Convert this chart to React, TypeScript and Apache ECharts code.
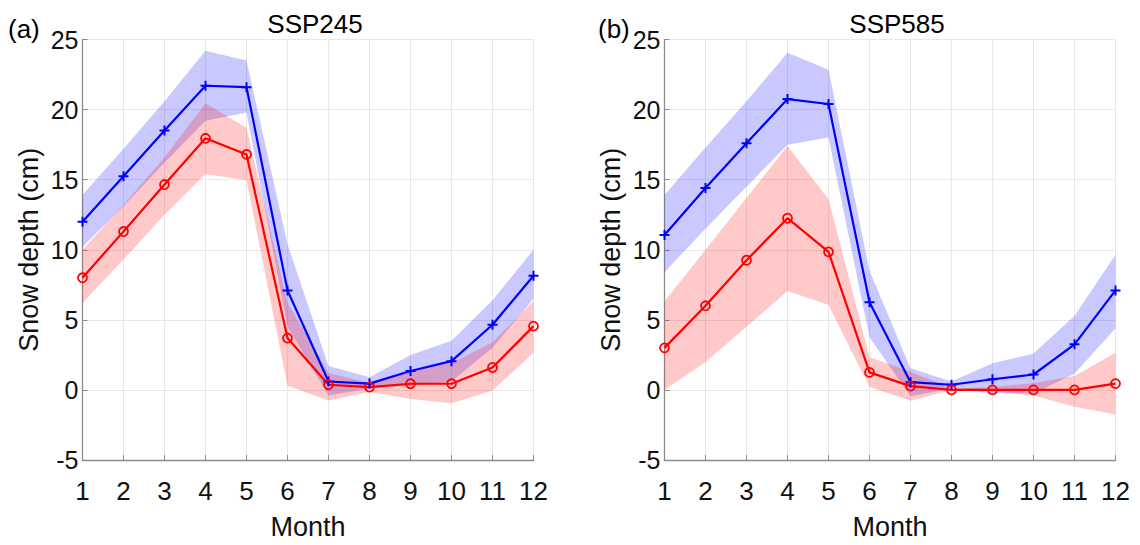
import React, { useEffect, useRef } from "react";
import * as echarts from "echarts";

const months = [1, 2, 3, 4, 5, 6, 7, 8, 9, 10, 11, 12];
const yTicks = [-5, 0, 5, 10, 15, 20, 25];

// (a) SSP245
const aBlue = [12.0, 15.25, 18.5, 21.7, 21.6, 7.1, 0.6, 0.45, 1.35, 2.05, 4.65, 8.15];
const aBlueHi = [13.9, 17.2, 20.6, 24.2, 23.5, 10.4, 1.7, 0.9, 2.5, 3.5, 6.4, 10.0];
const aBlueLo = [10.2, 13.1, 16.2, 19.2, 19.8, 4.5, -0.4, 0.1, 0.3, 0.6, 3.0, 6.5];
const aRed = [8.0, 11.3, 14.65, 17.95, 16.8, 3.7, 0.37, 0.2, 0.44, 0.44, 1.6, 4.55];
const aRedHi = [10.0, 13.2, 16.6, 20.45, 18.7, 6.2, 1.2, 0.5, 1.4, 1.9, 3.4, 6.35];
const aRedLo = [6.2, 9.3, 12.5, 15.4, 14.95, 0.3, -0.75, -0.15, -0.65, -0.95, -0.05, 2.65];

// (b) SSP585
const bBlue = [11.05, 14.4, 17.6, 20.75, 20.4, 6.25, 0.55, 0.37, 0.76, 1.1, 3.25, 7.1];
const bBlueHi = [13.9, 17.3, 20.6, 24.05, 22.85, 8.5, 1.55, 0.6, 1.9, 2.6, 5.3, 9.65];
const bBlueLo = [8.4, 11.5, 14.5, 17.5, 18.0, 3.75, -0.45, 0.1, -0.25, -0.25, 1.15, 4.4];
const bRed = [3.0, 6.0, 9.25, 12.25, 9.85, 1.25, 0.27, 0.0, 0.0, 0.0, 0.0, 0.45];
const bRedHi = [6.3, 10.0, 13.7, 17.4, 13.6, 2.35, 1.3, 0.1, 0.2, 0.5, 1.0, 2.65];
const bRedLo = [0.0, 2.0, 4.5, 7.05, 6.05, 0.2, -0.78, 0.0, -0.1, -0.4, -1.2, -1.75];

const titles = ["SSP245", "SSP585"];
const panelTags = ["(a)", "(b)"];

const FONT = "'Liberation Sans', Arial, Helvetica, sans-serif";
const BLUE = "#0000ff";
const RED = "#ff0000";
const PLUS = "path://M4,0H6V4H10V6H6V10H4V6H0V4H4Z";
const TXT = "#111111";

const pairs = (vals: number[]) => months.map((m, i) => [m, vals[i]]);

function band(gi: number, lo: number[], hi: number[], fill: string) {
  return {
    type: "custom",
    xAxisIndex: gi,
    yAxisIndex: gi,
    silent: true,
    z: 1,
    data: months.map((m, i) => [m, lo[i], hi[i]]),
    encode: { x: 0, y: [1, 2] },
    renderItem: (params: any, api: any) => {
      if (params.dataIndex !== 0) return null;
      const pts: number[][] = [];
      for (let i = 0; i < months.length; i++) pts.push(api.coord([months[i], hi[i]]));
      for (let i = months.length - 1; i >= 0; i--) pts.push(api.coord([months[i], lo[i]]));
      return { type: "polygon", shape: { points: pts }, style: { fill, stroke: "none" } };
    },
  };
}

function meanLine(gi: number, vals: number[], color: string, kind: "plus" | "circle") {
  return {
    type: "line",
    xAxisIndex: gi,
    yAxisIndex: gi,
    data: pairs(vals),
    symbol: kind === "plus" ? PLUS : "circle",
    symbolSize: kind === "plus" ? 10 : 9,
    showSymbol: true,
    lineStyle: { color, width: 2.2 },
    itemStyle:
      kind === "plus"
        ? { color, borderWidth: 0 }
        : { color: "rgba(255,255,255,0)", borderColor: color, borderWidth: 1.8 },
    z: 5,
  };
}

const gridLefts = [82.5, 664.5];
const GRID_W = 451;
const GRID_TOP = 39.5;
const GRID_H = 424.5;

export default function App() {
  const ref = useRef<HTMLDivElement>(null);
  useEffect(() => {
    if (!ref.current) return;
    const chart = echarts.init(ref.current, undefined, { renderer: "svg" });
    const grids = gridLefts.map((l) => ({ left: l, top: GRID_TOP, width: GRID_W, height: GRID_H }));
    const xAxes = [0, 1].map((gi) => ({
      type: "value",
      gridIndex: gi,
      min: 1,
      max: 12,
      interval: 1,
      name: "Month",
      nameLocation: "middle",
      nameGap: 53,
      nameTextStyle: { fontFamily: FONT, fontSize: 27, color: TXT },
      axisLine: { show: true, onZero: false, lineStyle: { color: "#8c8c8c", width: 1.3 } },
      axisTick: { show: true, inside: true, length: 5, lineStyle: { color: "#8c8c8c" } },
      axisLabel: { fontFamily: FONT, fontSize: 26, color: TXT, margin: 18 },
      splitLine: { show: true, lineStyle: { color: "#e8e8e8", width: 1 } },
    }));
    const yAxes = [0, 1].map((gi) => ({
      type: "value",
      gridIndex: gi,
      min: -5,
      max: 25,
      interval: 5,
      name: "Snow depth (cm)",
      nameLocation: "middle",
      nameGap: 40,
      nameTextStyle: { fontFamily: FONT, fontSize: 27, color: TXT },
      axisLine: { show: true, onZero: false, lineStyle: { color: "#8c8c8c", width: 1.3 } },
      axisTick: { show: true, inside: true, length: 5, lineStyle: { color: "#8c8c8c" } },
      axisLabel: {
        fontFamily: FONT,
        fontSize: 25,
        color: TXT,
        margin: 4,
        formatter: (v: number) => (yTicks.includes(v) ? String(v) : ""),
      },
      splitLine: { show: true, lineStyle: { color: "#e8e8e8", width: 1 } },
    }));
    const series: any[] = [
      band(0, aBlueLo, aBlueHi, "rgba(0,0,255,0.21)"),
      band(0, aRedLo, aRedHi, "rgba(255,0,0,0.21)"),
      meanLine(0, aBlue, BLUE, "plus"),
      meanLine(0, aRed, RED, "circle"),
      band(1, bBlueLo, bBlueHi, "rgba(0,0,255,0.21)"),
      band(1, bRedLo, bRedHi, "rgba(255,0,0,0.21)"),
      meanLine(1, bBlue, BLUE, "plus"),
      meanLine(1, bRed, RED, "circle"),
    ];
    chart.setOption({
      animation: false,
      backgroundColor: "#ffffff",
      title: titles.map((t, i) => ({
        text: t,
        left: gridLefts[i] + GRID_W / 2 + 2,
        top: 6,
        textAlign: "center",
        textStyle: { fontFamily: FONT, fontSize: 26, fontWeight: "normal", color: "#000" },
      })),
      graphic: panelTags.map((t, i) => ({
        type: "text",
        left: i === 0 ? 8 : 598,
        top: 16,
        style: { text: t, font: `26px ${FONT}`, fill: "#000" },
      })),
      grid: grids,
      xAxis: xAxes,
      yAxis: yAxes,
      series,
    });
    return () => chart.dispose();
  }, []);
  return (
    <div
      ref={ref}
      style={{ position: "fixed", left: 0, top: 0, width: 1140, height: 545, background: "#fff" }}
    />
  );
}
